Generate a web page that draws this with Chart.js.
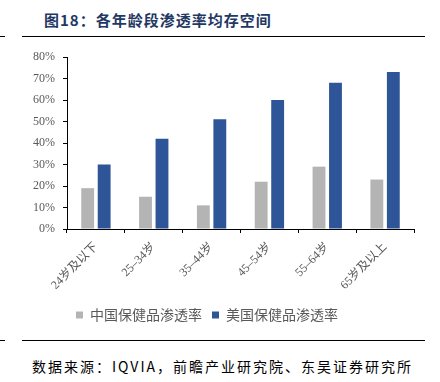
<!DOCTYPE html>
<html>
<head>
<meta charset="utf-8">
<script src="https://cdn.jsdelivr.net/npm/chart.js@4"></script>
<style>
  body { margin: 0; width: 440px; height: 382px; background: #fff; position: relative; overflow: hidden; }
  .title { position: absolute; left: 44px; top: 9px; font: bold 15px "Noto Sans CJK SC", serif; color: #1f3864; letter-spacing: 1px; }
  .rule { position: absolute; height: 1px; background: #000; }
  .source { position: absolute; left: 32px; top: 356px; font: 14px "Noto Sans CJK SC", serif; color: #000; letter-spacing: 2px; }
  #wrap { position: absolute; left: 0; top: 40px; width: 440px; height: 292px; }
</style>
</head>
<body>
<div class="title">图18：各年龄段渗透率均存空间</div>
<div class="rule" style="left:22px; top:36px; width:403px;"></div>
<div class="rule" style="left:0; top:36px; width:5px;"></div>
<div id="wrap"><canvas id="chart"></canvas></div>
<div class="rule" style="left:22px; top:340px; width:403px;"></div>
<div class="rule" style="left:0; top:340px; width:5px;"></div>
<div class="source">数据来源：IQVIA，前瞻产业研究院、东吴证券研究所</div>
<script>
// Age groups and penetration rates (%)
const ageGroups = ['24岁及以下', '25–34岁', '35–44岁', '45–54岁', '55–64岁', '65岁及以上'];
const chinaRate = [19, 15, 11, 22, 29, 23];
const usRate = [30, 42, 51, 60, 68, 73];
const yTicks = [0, 10, 20, 30, 40, 50, 60, 70, 80];

const tickFont = { family: '"Liberation Serif", "Noto Sans CJK SC", serif', size: 12 };

new Chart(document.getElementById('chart'), {
    type: 'bar',
    data: {
        labels: ageGroups,
        datasets: [{
            label: '中国保健品渗透率',
            data: chinaRate,
            backgroundColor: '#b4b4b4',
            borderWidth: 0
        }, {
            label: '美国保健品渗透率',
            data: usRate,
            backgroundColor: '#2e5597',
            borderWidth: 0
        }]
    },
    options: {
        responsive: true,
        maintainAspectRatio: false,
        animation: false,
        layout: { padding: { top: 17, right: 26, left: 0, bottom: 0 } },
        datasets: { bar: { categoryPercentage: 0.57, barPercentage: 0.78 } },
        plugins: {
            legend: {
                position: 'bottom',
                labels: {
                    boxWidth: 7, boxHeight: 7, padding: 10,
                    color: '#595959',
                    font: { family: '"Noto Sans CJK SC", serif', size: 14 }
                }
            },
            tooltip: { enabled: false }
        },
        scales: {
            x: {
                grid: { display: true, drawOnChartArea: false, drawTicks: true, tickLength: 4, color: '#000', offset: true },
                border: { color: '#000', width: 1 },
                ticks: { color: '#595959', font: tickFont, minRotation: 45, maxRotation: 45, padding: 7 },
                afterFit: s => { s.height = 69; }
            },
            y: {
                min: 0, max: 80,
                afterBuildTicks: s => { s.ticks = yTicks.map(v => ({ value: v })); },
                grid: { display: true, drawOnChartArea: false, drawTicks: true, tickLength: 4, color: '#000' },
                border: { color: '#000', width: 1 },
                ticks: { color: '#595959', font: tickFont, padding: 8, callback: v => v + '%' },
                afterFit: s => { s.width = 67; }
            }
        }
    }
});
</script>
</body>
</html>
